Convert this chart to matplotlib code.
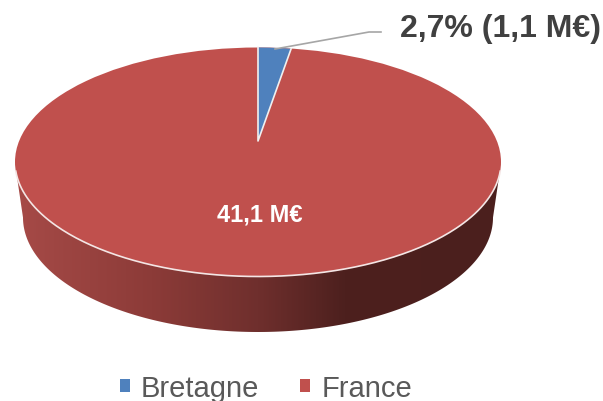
import matplotlib
matplotlib.use('Agg')
import matplotlib.pyplot as plt
from matplotlib.patches import Ellipse, Patch, Polygon
from matplotlib.colors import LinearSegmentedColormap
import numpy as np

plt.rcParams['font.family'] = ['Liberation Sans', 'DejaVu Sans']

# data
categories = ['Bretagne', 'France']
shares = [2.7, 97.3]
label_bretagne = '2,7% (1,1 M€)'
label_france = '41,1 M€'
colors = ['#4f81bd', '#c0504d']

# the axes are in image pixels, y pointing down
fig = plt.figure(figsize=(6.03, 4.02), dpi=100)
ax = fig.add_axes([0, 0, 1, 1])
ax.set_xlim(0, 603)
ax.set_ylim(402, 0)
ax.axis('off')

cx, cy, a, b = 258, 163, 243, 114.5
depth = 55.5
a_low = 235

# side of the disc, gradient clipped to its outline
t = np.linspace(np.pi, 0, 200)
outline = [(17, 178), (23, cy + depth)]
outline += list(zip(cx + a_low * np.cos(t), cy + depth + b * np.sin(t)))
outline += [(493, cy + depth), (499, 178)]
side = Polygon(outline, closed=True, fc='none', ec='none')
ax.add_patch(side)
side_cmap = LinearSegmentedColormap.from_list('side', [
    (0.0, '#a64a47'), (0.28, '#8c3b38'), (0.5, '#6f2f2d'),
    (0.68, '#4d201e'), (1.0, '#4b1f1d')])
im = ax.imshow(np.linspace(0, 1, 256).reshape(1, -1), cmap=side_cmap,
               extent=(17, 499, 335, 170), aspect='auto', zorder=1)
im.set_clip_path(side)
ax.set_xlim(0, 603)
ax.set_ylim(402, 0)

# top face
top = Ellipse((cx, cy), 2 * a, 2 * b, fc=colors[1], ec='none', zorder=2)
ax.add_patch(top)

# white rim along the front
t = np.linspace(0.08, np.pi - 0.08, 200)
ax.plot(cx + a * np.cos(t), cy + b * np.sin(t), color='#f4e6e5', lw=1.2, zorder=3)

# Bretagne slice, apex sits above the ellipse centre because of the perspective
apex = (258, 142)
angle = np.linspace(0, 2 * np.pi * shares[0] / sum(shares), 30)
rim = list(zip(apex[0] + 196 * np.sin(angle), apex[1] - 93.5 * np.cos(angle)))
ax.add_patch(Polygon([apex] + rim, closed=True, fc=colors[0], ec='none', zorder=4))
ax.plot([rim[-1][0], apex[0], rim[0][0]], [rim[-1][1], apex[1], rim[0][1]],
        color='#f0f0f0', lw=1.2, zorder=5)

# leader line and labels
ax.plot([275, 369, 381], [50, 33, 33], color='#a6a6a6', lw=1.2, zorder=6)
ax.text(400, 29, label_bretagne, fontsize=23, fontweight='bold', color='#404040',
        ha='left', va='center', zorder=7)
ax.text(260, 215, label_france, fontsize=17, fontweight='bold', color='white',
        ha='center', va='center', zorder=7)

handles = [Patch(fc=c, ec='none', label=n) for c, n in zip(colors, categories)]
ax.legend(handles=handles, loc='center', bbox_to_anchor=(266, 389),
          bbox_transform=ax.transData, ncol=2, frameon=False, fontsize=21,
          labelcolor='#595959', handlelength=0.34, handleheight=0.34,
          handletextpad=0.38, columnspacing=1.41, borderpad=0, borderaxespad=0)

fig.savefig('out.png', dpi=100)
